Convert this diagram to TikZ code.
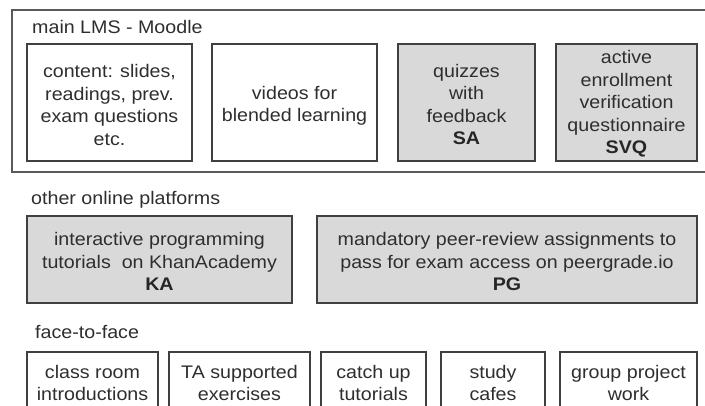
\documentclass[tikz,border=0pt]{standalone}
\usepackage{fontspec}
\setmainfont{Liberation Sans}[FakeStretch=1.08]
\definecolor{boxline}{HTML}{404040}
\definecolor{outerline}{HTML}{5A5A5A}
\definecolor{boxfill}{HTML}{D9D9D9}
\definecolor{txt}{HTML}{2E2E2E}
\begin{document}
\begin{tikzpicture}[x=1pt,y=-1pt,
  frame/.style={draw=boxline, line width=1.4pt},
  gframe/.style={frame, fill=boxfill},
  outer/.style={draw=outerline, line width=2pt},
  tx/.style={inner sep=0pt, align=center, text=txt, font=\fontsize{18.2}{22.5}\selectfont},
  lbl/.style={anchor=base west, inner sep=0pt, text=txt, font=\fontsize{18.2}{22.5}\selectfont}]
\useasboundingbox (0,0) rectangle (705,406);
\clip (0,0) rectangle (705,406);
% outer Moodle frame
\draw[outer] (720,10) -- (12,10) -- (12,172) -- (720,172);
\node[lbl] (lms) at (32,34) {main LMS - Moodle};
% Moodle boxes
\draw[frame] (27,44) rectangle (192,161);
\node[tx] (m1) at (109.5,105) {content: slides,\\readings, prev.\\exam questions\\etc.};
\draw[frame] (212,44) rectangle (377,161);
\node[tx] (m2) at (294.5,106) {videos for\\blended learning};
\draw[gframe] (398,44) rectangle (535,161);
\node[tx] (m3) at (466.5,104.5) {quizzes\\with\\feedback\\\textbf{\color{black!85}SA}};
\draw[gframe] (556,44) rectangle (697,161);
\node[tx] (m4) at (626.5,104) {active\\enrollment\\verification\\questionnaire\\\textbf{\color{black!85}SVQ}};
% other online platforms
\node[lbl] (oop) at (31,205) {other online platforms};
\draw[gframe] (27,216) rectangle (292,303);
\node[tx] (ka) at (159.5,261.5) {interactive programming\\tutorials\ \ on KhanAcademy\\\textbf{\color{black!85}KA}};
\draw[gframe] (317,216) rectangle (697,303);
\node[tx] (pg) at (507,261.5) {mandatory peer-review assignments to\\pass for exam access on peergrade.io\\\textbf{\color{black!85}PG}};
% face-to-face
\node[lbl] (f2f) at (35,339) {face-to-face};
\draw[frame] (27,352) rectangle (158,420);
\node[tx] (f1) at (92.5,383) {class room\\introductions};
\draw[frame] (169,352) rectangle (310,420);
\node[tx] (f2) at (239.5,383) {TA supported\\exercises};
\draw[frame] (321,352) rectangle (426,420);
\node[tx] (f3) at (373.5,383) {catch up\\tutorials};
\draw[frame] (441,352) rectangle (545,420);
\node[tx] (f4) at (493,383) {study\\cafes};
\draw[frame] (560,352) rectangle (697,420);
\node[tx] (f5) at (628.5,383) {group project\\work};
\end{tikzpicture}
\end{document}
